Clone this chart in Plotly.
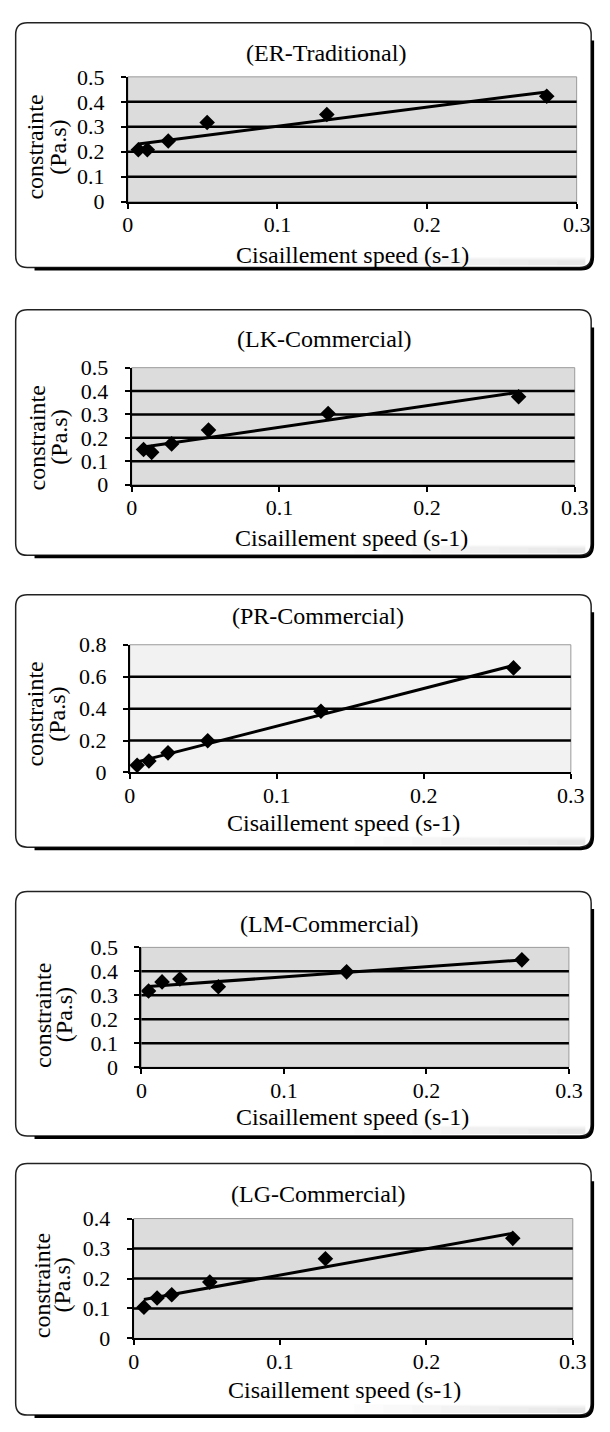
import numpy as np
import plotly.graph_objects as go

W, H = 610, 1432

# ---------------- data ----------------
titles = ["(ER-Traditional)", "(LK-Commercial)", "(PR-Commercial)", "(LM-Commercial)", "(LG-Commercial)"]
x_title = "Cisaillement speed (s-1)"
y_title_1 = "constrainte"
y_title_2 = "(Pa.s)"

er_x = [0.007, 0.013, 0.027, 0.053, 0.133, 0.280]
er_y = [0.208, 0.208, 0.243, 0.317, 0.349, 0.422]

lk_x = [0.008, 0.0135, 0.027, 0.052, 0.133, 0.262]
lk_y = [0.150, 0.138, 0.174, 0.233, 0.304, 0.376]

pr_x = [0.005, 0.013, 0.026, 0.053, 0.130, 0.261]
pr_y = [0.045, 0.072, 0.123, 0.199, 0.384, 0.655]

lm_x = [0.005, 0.0145, 0.027, 0.054, 0.144, 0.267]
lm_y = [0.318, 0.356, 0.368, 0.336, 0.398, 0.448]

lg_x = [0.007, 0.016, 0.026, 0.052, 0.131, 0.259]
lg_y = [0.104, 0.135, 0.146, 0.188, 0.266, 0.334]

x_ticks = [0, 0.1, 0.2, 0.3]
y_ticks_a = [0, 0.1, 0.2, 0.3, 0.4, 0.5]
y_ticks_pr = [0, 0.2, 0.4, 0.6, 0.8]
y_ticks_lg = [0, 0.1, 0.2, 0.3, 0.4]

series = [(er_x, er_y, y_ticks_a), (lk_x, lk_y, y_ticks_a), (pr_x, pr_y, y_ticks_pr),
          (lm_x, lm_y, y_ticks_a), (lg_x, lg_y, y_ticks_lg)]

# ---------------- layout geometry (pixels) ----------------
plot_boxes = [(126, 590, 66, 193), (130, 588, 362, 481), (128, 584, 644, 774),
              (140, 582, 952, 1074), (132, 586, 1228, 1350)]
frames = [(10, 605, 11, 260), (10, 605, 303, 553), (10, 605, 593, 850),
          (10, 605, 895, 1144), (10, 605, 1172, 1428)]
title_pos = [(331, 42), (329, 333), (323, 615), (334, 928), (323, 1203)]
xtitle_pos = [(358, 247), (357, 535), (349, 825), (358, 1125), (350, 1402)]
ytitle_pos = [(30, 53, 138), (32, 55, 433), (30, 52, 715), (38, 60, 1021), (38, 58, 1296)]
plot_bg = ["#dcdcdc", "#dcdcdc", "#f2f2f2", "#dcdcdc", "#dcdcdc"]

FONT = "Liberation Serif"
FS = 24
FS_TICK = 22


def px(x):
    return x / W


def py(y):
    return 1 - y / H


def rounded_path(x0, x1, y0, y1, r):
    rx, ry = r / W, r / H
    X0, X1, Y0, Y1 = px(x0), px(x1), py(y0), py(y1)  # Y0 top, Y1 bottom
    return (f"M {X0+rx},{Y0} L {X1-rx},{Y0} Q {X1},{Y0} {X1},{Y0-ry} "
            f"L {X1},{Y1+ry} Q {X1},{Y1} {X1-rx},{Y1} L {X0+rx},{Y1} "
            f"Q {X0},{Y1} {X0},{Y1+ry} L {X0},{Y0-ry} Q {X0},{Y0} {X0+rx},{Y0} Z")


def shadow_path(x0, x1, y0, y1, r):
    rx, ry = r / W, r / H
    X0, X1, Y0, Y1 = px(x0), px(x1), py(y0), py(y1)
    return (f"M {X1},{Y0-ry*1.5} L {X1},{Y1+ry} Q {X1},{Y1} {X1-rx},{Y1} L {X0+rx*1.5},{Y1}")


fig = go.Figure()
shapes = []
annotations = []

for i, ((xs, ys, yt), (l, r, t, b)) in enumerate(zip(series, plot_boxes)):
    n = "" if i == 0 else str(i + 1)
    xa, ya = "x" + n, "y" + n
    xs_a = np.array(xs)
    ys_a = np.array(ys)
    slope, icpt = np.polyfit(xs_a, ys_a, 1)
    lx = np.array([xs_a.min(), xs_a.max()])
    fig.add_trace(go.Scatter(x=lx, y=slope * lx + icpt, mode="lines",
                             line=dict(color="black", width=3), xaxis=xa, yaxis=ya,
                             hoverinfo="skip"))
    fig.add_trace(go.Scatter(x=xs, y=ys, mode="markers",
                             marker=dict(symbol="diamond", size=12, color="black"),
                             xaxis=xa, yaxis=ya))

    axis_common = dict(showgrid=False, zeroline=False, showline=True, linecolor="black",
                       linewidth=2, ticks="outside", ticklen=5, tickwidth=2,
                       tickcolor="black", tickfont=dict(family=FONT, size=FS_TICK, color="black"))
    fig.layout["xaxis" + n] = dict(domain=[px(l), px(r)], anchor=ya, range=[0, 0.3],
                                   tickvals=x_ticks, ticktext=[f"{v:g}" for v in x_ticks],
                                   ticklabelstandoff=-3, fixedrange=True, **axis_common)
    fig.layout["yaxis" + n] = dict(domain=[py(b), py(t)], anchor=xa, range=[yt[0], yt[-1]],
                                   tickvals=yt, ticktext=[f"{v:g}" for v in yt],
                                   ticklabelstandoff=12, fixedrange=True, **axis_common)

    # plot background and thin gray border
    shapes.append(dict(type="rect", xref=xa + " domain", yref=ya + " domain", x0=0, x1=1, y0=0, y1=1,
                       fillcolor=plot_bg[i], line=dict(color="#9a9a9a", width=1), layer="below"))
    # horizontal grid lines (interior ticks)
    for v in yt[1:-1]:
        shapes.append(dict(type="line", xref=xa + " domain", yref=ya, x0=0, x1=1, y0=v, y1=v,
                           line=dict(color="black", width=2.5), layer="below"))

    # frame: very faint gray shading near the bottom-right, then border and shadow
    fl, fr, ft, fb = frames[i]
    for k in range(8):
        sx = 360 + k * 30
        shapes.append(dict(type="rect", xref="paper", yref="paper",
                           x0=px(sx), x1=px(fr - 6), y0=py(fb - 2), y1=py(fb - 11 + k * 0.6),
                           fillcolor="#b0b0b0", opacity=0.045, line=dict(width=0), layer="below"))
    shapes.append(dict(type="path", xref="paper", yref="paper", path=rounded_path(fl, fr, ft, fb, 12),
                       line=dict(color="#222222", width=1.5), layer="below"))
    shapes.append(dict(type="path", xref="paper", yref="paper",
                       path=shadow_path(fl + 1.5, fr + 1.5, ft, fb + 1.5, 12),
                       line=dict(color="black", width=3), layer="below"))

    # texts
    tx, ty = title_pos[i]
    annotations.append(dict(text=titles[i], x=px(tx), y=py(ty), xref="paper", yref="paper",
                            showarrow=False, xanchor="center", yanchor="middle",
                            font=dict(family=FONT, size=FS, color="black")))
    xx, xy = xtitle_pos[i]
    annotations.append(dict(text=x_title, x=px(xx), y=py(xy), xref="paper", yref="paper",
                            showarrow=False, xanchor="center", yanchor="middle",
                            font=dict(family=FONT, size=FS, color="black")))
    y1x, y2x, yy = ytitle_pos[i]
    for txt, xpos in ((y_title_1, y1x), (y_title_2, y2x)):
        annotations.append(dict(text=txt, x=px(xpos), y=py(yy), xref="paper", yref="paper",
                                showarrow=False, xanchor="center", yanchor="middle", textangle=-90,
                                font=dict(family=FONT, size=FS, color="black")))

fig.update_layout(width=W, height=H, margin=dict(l=0, r=0, t=0, b=0),
                  paper_bgcolor="white", plot_bgcolor="rgba(0,0,0,0)", showlegend=False,
                  shapes=shapes, annotations=annotations)

fig.write_html("out.html", config={"displayModeBar": False},
               post_script="document.body.style.margin='0';")
